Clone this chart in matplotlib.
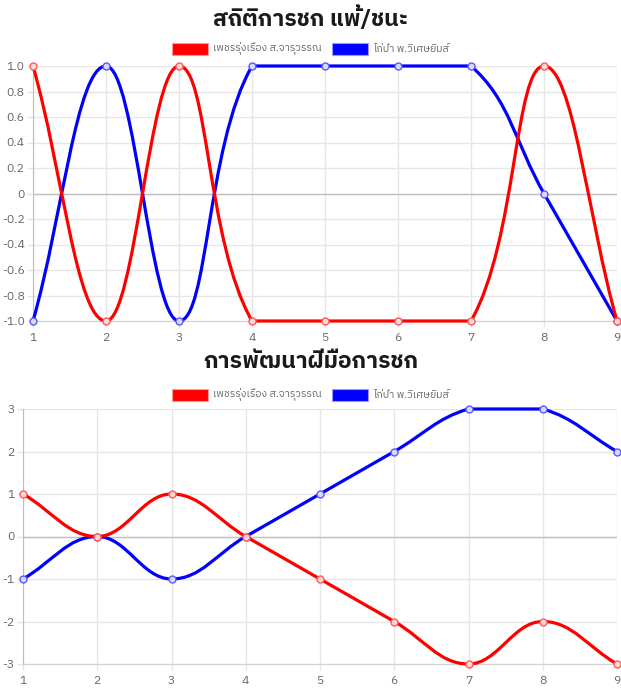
import matplotlib
matplotlib.use('Agg')
import matplotlib.pyplot as plt
from matplotlib import font_manager
from matplotlib.path import Path
from matplotlib.patches import PathPatch, Rectangle
import numpy as np

# data
rounds = [1, 2, 3, 4, 5, 6, 7, 8, 9]
name_red = 'เพชรรุ่งเรือง ส.จารุวรรณ'
name_blue = 'ไก่ป่า พ.วิเศษยิมส์'
title1 = 'สถิติการชก แพ้/ชนะ'
title2 = 'การพัฒนาฝีมือการชก'
winloss_red = [1, -1, 1, -1, -1, -1, -1, 1, -1]
winloss_blue = [-1, 1, -1, 1, 1, 1, 1, 0, -1]
skill_red = [1, 0, 1, 0, -1, -2, -3, -2, -3]
skill_blue = [-1, 0, -1, 0, 1, 2, 3, 3, 2]
yticks1 = [-1.0, -0.8, -0.6, -0.4, -0.2, 0, 0.2, 0.4, 0.6, 0.8, 1.0]
yticks2 = [-3, -2, -1, 0, 1, 2, 3]


# find a font that has Thai glyphs
def find_thai_fonts():
    names = []
    try:
        from fontTools.ttLib import TTFont
    except Exception:
        return names
    for fe in font_manager.fontManager.ttflist:
        if fe.name in names:
            continue
        try:
            f = TTFont(fe.fname, fontNumber=0, lazy=True)
            cmap = f.getBestCmap()
            if cmap and 0x0E01 in cmap and 0x0E48 in cmap:
                names.append(fe.name)
        except Exception:
            pass
    return names

thai = find_thai_fonts()
pref = [n for n in thai if 'Sans' in n] + [n for n in thai if 'Sans' not in n]
plt.rcParams['font.family'] = pref[:2] + ['DejaVu Sans']

W, H = 621, 695
fig = plt.figure(figsize=(W / 100, H / 100), dpi=100)
renderer = fig.canvas.get_renderer()

GRID = '#e6e6e6'
ZERO = '#c0c0c0'
TICK = '#666666'


def px_axes(x0, x1, y0, y1):
    return fig.add_axes([x0 / W, 1 - y1 / H, (x1 - x0) / W, (y1 - y0) / H])


def bezier_line(ax, xs, ys, color, tension=0.4):
    # chart.js style spline, computed in pixel space
    pts = ax.transData.transform(np.column_stack([xs, ys]))
    bb = ax.bbox
    n = len(pts)
    verts = [pts[0]]
    codes = [Path.MOVETO]
    cps = []
    for i in range(n):
        prev = pts[i - 1] if i > 0 else pts[i]
        cur = pts[i]
        nxt = pts[i + 1] if i < n - 1 else pts[i]
        d01 = np.hypot(*(cur - prev))
        d12 = np.hypot(*(nxt - cur))
        tot = d01 + d12
        s01 = d01 / tot if tot else 0
        s12 = d12 / tot if tot else 0
        c_prev = cur - tension * s01 * (nxt - prev)
        c_next = cur + tension * s12 * (nxt - prev)
        for c in (c_prev, c_next):
            c[0] = min(max(c[0], bb.x0), bb.x1)
            c[1] = min(max(c[1], bb.y0), bb.y1)
        cps.append((c_prev, c_next))
    for i in range(1, n):
        verts += [cps[i - 1][1], cps[i][0], pts[i]]
        codes += [Path.CURVE4] * 3
    inv = ax.transData.inverted()
    path = Path(inv.transform(np.array(verts)), codes)
    patch = PathPatch(path, facecolor='none', edgecolor=color, lw=2.3,
                      clip_on=False, zorder=3)
    ax.add_patch(patch)
    light = (1, 0.85, 0.85) if color == 'red' else (0.85, 0.85, 1)
    edge = (1, 0.35, 0.35) if color == 'red' else (0.35, 0.35, 1)
    ax.plot(xs, ys, 'o', ms=5, mfc=light, mec=edge, mew=1,
            clip_on=False, zorder=4)


def legend(ycen):
    kw = dict(fontsize=7.6, color=TICK, va='center', ha='left')
    # measure texts to centre the legend row like chart.js
    widths = []
    for name in (name_red, name_blue):
        t = fig.text(0, 0, name, **kw)
        widths.append(t.get_window_extent(renderer).width)
        t.remove()
    box, gap, sep = 36, 5, 10
    total = 2 * (box + gap) + widths[0] + widths[1] + sep
    x = W / 2 - total / 2
    for name, col, edge, w in ((name_red, 'red', (1, 0.6, 0.6), widths[0]),
                               (name_blue, 'blue', (0.6, 0.6, 1), widths[1])):
        fig.patches.append(Rectangle((x / W, 1 - (ycen + 6) / H), box / W, 12 / H,
                                     transform=fig.transFigure, facecolor=col,
                                     edgecolor=edge, lw=0.8))
        fig.text((x + box + gap) / W, 1 - ycen / H, name, **kw)
        x += box + gap + w + sep


def style_axes(ax, yticks, ylabels, ylim):
    ax.set_xlim(1, 9)
    ax.set_ylim(*ylim)
    ax.set_xticks(rounds)
    ax.set_xticklabels([str(r) for r in rounds])
    ax.set_yticks(yticks)
    ax.set_yticklabels(ylabels)
    ax.grid(True, color=GRID, lw=1)
    ax.set_axisbelow(True)
    for s in ('top', 'right'):
        ax.spines[s].set_visible(False)
    ax.spines['left'].set_color('#bdbdbd')
    ax.spines['bottom'].set_color('#d0d0d0')
    ax.tick_params(colors=TICK, labelsize=8.8, length=4, width=1, pad=2)
    ax.tick_params(axis='x', pad=5)
    ax.tick_params(axis='both', color=GRID)
    ax.axhline(0, color=ZERO, lw=1, zorder=1)


# chart 1
fig.text(0.5, 1 - 18 / H, title1, ha='center', va='center', fontsize=16.5,
         fontweight='bold', color='#1a1a1a')
legend(49)
ax1 = px_axes(33, 617, 66, 321)
style_axes(ax1, yticks1, ['%.1f' % v if v != 0 else '0' for v in yticks1], (-1, 1))
bezier_line(ax1, rounds, winloss_blue, 'blue')
bezier_line(ax1, rounds, winloss_red, 'red')

# chart 2
fig.text(0.5, 1 - 361 / H, title2, ha='center', va='center', fontsize=16.5,
         fontweight='bold', color='#1a1a1a')
legend(395)
ax2 = px_axes(23, 617, 409, 664)
style_axes(ax2, yticks2, [str(v) for v in yticks2], (-3, 3))
bezier_line(ax2, rounds, skill_blue, 'blue')
bezier_line(ax2, rounds, skill_red, 'red')

fig.savefig('out.png', dpi=100)
